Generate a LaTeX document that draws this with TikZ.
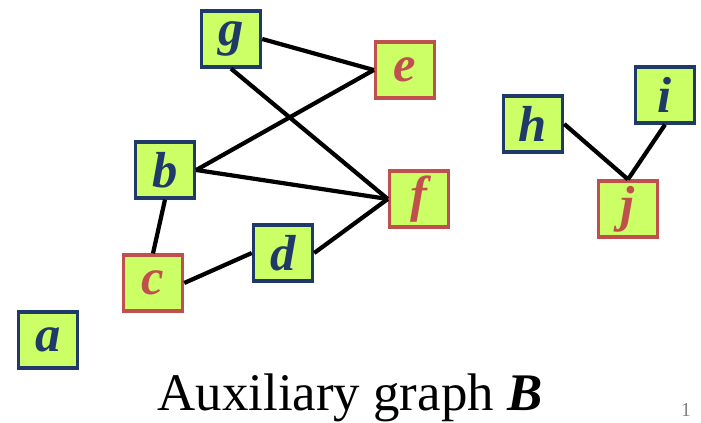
\documentclass[tikz,border=0pt]{standalone}
\usepackage{fontspec}
\setmainfont{Liberation Serif}
\definecolor{navy}{HTML}{1F3A68}
\definecolor{brick}{HTML}{C0504D}
\definecolor{lime}{HTML}{CCFF66}
\tikzset{
  vbox/.style = {draw, fill=lime, line width=2.6pt, minimum width=1.47cm, minimum height=1.39cm,
                 inner sep=0pt, font=\fontsize{36}{36}\selectfont\bfseries\itshape},
  bluebox/.style = {vbox, draw=navy, text=navy},
  redbox/.style = {vbox, draw=brick, text=brick},
  edge/.style = {line width=3pt}
}
\begin{document}
\begin{tikzpicture}
\useasboundingbox (0,0) rectangle (17.525,10.55);
% vertices
\node[bluebox] (g) at (5.775,9.575){g};
\node[redbox] (e) at (10.125,8.8){e};
\node[bluebox] (b) at (4.125,6.3){b};
\node[redbox] (f) at (10.475,5.575){f};
\node[redbox] (c) at (3.825,3.475){c};
\node[bluebox] (d) at (7.075,4.225){d};
\node[bluebox] (a) at (1.2,2.05){a};
\node[bluebox] (h) at (13.325,7.45){h};
\node[bluebox] (i) at (16.625,8.175){i};
\node[redbox] (j) at (15.7,5.325){j};
% edges
\draw[edge] (g.east) -- (e.west);
\draw[edge] (g.south) -- (f.west);
\draw[edge] (b.east) -- (e.west);
\draw[edge] (b.east) -- (f.west);
\draw[edge] (b.south) -- (c.north);
\draw[edge] (c.east) -- (d.west);
\draw[edge] (d.east) -- (f.west);
\draw[edge] (h.east) -- (j.north);
\draw[edge] (i.south) -- (j.north);
% caption
\node[anchor=base, font=\fontsize{37.6}{40}\selectfont] (title) at (8.75,0.3){Auxiliary graph \textbf{\textit{B}}};
\node[anchor=base, text=gray, font=\fontsize{14}{14}\selectfont] (page) at (17.15,0.15){1};
\end{tikzpicture}
\end{document}
